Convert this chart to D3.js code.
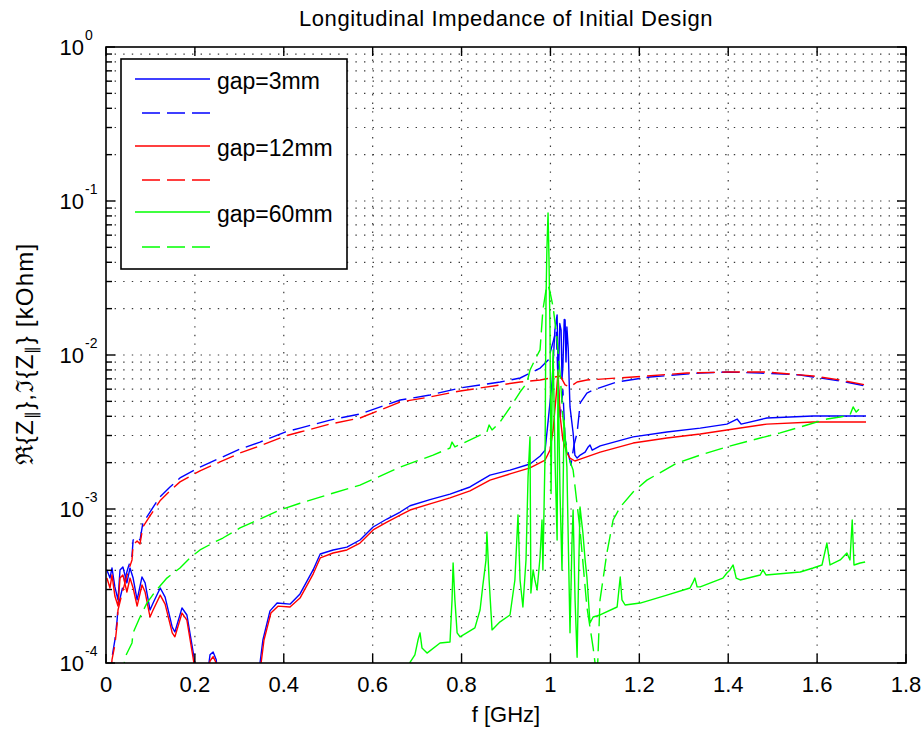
<!DOCTYPE html>
<html>
<head>
<meta charset="utf-8">
<script src="https://cdn.jsdelivr.net/npm/d3@7/dist/d3.min.js"></script>
<style>
  body { margin: 0; background: #fff; }
  text { font-family: "Liberation Sans", Arial, Helvetica, sans-serif; fill: #000; }
</style>
</head>
<body>
<svg id="chart" width="924" height="730"></svg>
<script>
// ---- chart text ----
const titleText = "Longitudinal Impedance of Initial Design";
const xLabelText = "f [GHz]";
const xTickValues = [0, 0.2, 0.4, 0.6, 0.8, 1.0, 1.2, 1.4, 1.6, 1.8];
const xTickLabels = ["0", "0.2", "0.4", "0.6", "0.8", "1", "1.2", "1.4", "1.6", "1.8"];
const yDecadeExponents = [0, -1, -2, -3, -4];
const legendLabels = ["gap=3mm", "", "gap=12mm", "", "gap=60mm", ""];

// ---- series: [frequency GHz, |Z| kOhm] ----
const gap3Re = [[0.002,4.02e-4],[0.009,3.56e-4],[0.0135,4.14e-4],[0.020,3.12e-4],[0.027,2.57e-4],[0.0315,4.02e-4],[0.038,4.2e-4],[0.047,3.31e-4],[0.054,4.14e-4],[0.061,3.56e-4],[0.070,2.57e-4],[0.081,3.62e-4],[0.088,3.31e-4],[0.099,2.21e-4],[0.106,2.45e-4],[0.122,3.07e-4],[0.133,2.68e-4],[0.149,1.71e-4],[0.155,1.59e-4],[0.171,2.28e-4],[0.182,2.05e-4],[0.196,1.18e-4],[0.205,7.8e-5],[0.227,7.8e-5],[0.234,1.13e-4],[0.241,1.18e-4],[0.248,1.05e-4],[0.252,7.8e-5],[0.340,7.8e-5],[0.3465,1.0e-4],[0.353,1.41e-4],[0.369,2.18e-4],[0.385,2.45e-4],[0.414,2.41e-4],[0.4365,2.81e-4],[0.466,4.02e-4],[0.482,5.1e-4],[0.511,5.42e-4],[0.542,5.66e-4],[0.5715,6.29e-4],[0.601,7.64e-4],[0.632,8.61e-4],[0.662,9.56e-4],[0.684,1.05e-3],[0.729,1.15e-3],[0.774,1.25e-3],[0.819,1.39e-3],[0.864,1.66e-3],[0.909,1.79e-3],[0.954,1.96e-3],[0.977,2.21e-3],[0.988,2.41e-3],[0.995,3.78e-3],[1.004,6.88e-3],[1.010,1.45e-2],[1.015,1.82e-2],[1.017,8.0e-3],[1.019,9.28e-3],[1.021,1.6e-2],[1.024,1.45e-2],[1.026,7.0e-3],[1.028,8.36e-3],[1.031,1.7e-2],[1.033,1.69e-2],[1.035,9.0e-3],[1.037,1.52e-2],[1.040,1.1e-2],[1.042,6.88e-3],[1.044,4.6e-3],[1.051,3.12e-3],[1.055,2.24e-3],[1.060,2.14e-3],[1.067,2.24e-3],[1.078,2.34e-3],[1.085,2.53e-3],[1.089,2.60e-3],[1.094,2.41e-3],[1.112,2.57e-3],[1.186,2.94e-3],[1.262,3.16e-3],[1.337,3.35e-3],[1.397,3.56e-3],[1.420,3.84e-3],[1.429,3.56e-3],[1.487,3.90e-3],[1.591,4.02e-3],[1.71,4.02e-3]];

const gap3Im = [[0.009,7.8e-5],[0.0135,1.09e-4],[0.020,1.41e-4],[0.025,1.90e-4],[0.027,2.31e-4],[0.036,2.98e-4],[0.043,3.56e-4],[0.0495,4.14e-4],[0.0585,4.95e-4],[0.061,6.29e-4],[0.070,6.58e-4],[0.0765,6.29e-4],[0.083,8.11e-4],[0.099,9.56e-4],[0.1215,1.20e-3],[0.144,1.39e-3],[0.1665,1.59e-3],[0.2115,1.87e-3],[0.2565,2.14e-3],[0.3015,2.45e-3],[0.3465,2.72e-3],[0.403,3.16e-3],[0.4365,3.35e-3],[0.504,3.78e-3],[0.5715,4.14e-3],[0.662,5.10e-3],[0.729,5.50e-3],[0.797,6.11e-3],[0.887,6.68e-3],[0.932,7.09e-3],[0.977,8.23e-3],[0.995,9.28e-3],[1.004,1.16e-2],[1.013,1.45e-2],[1.017,6.88e-3],[1.022,3.96e-3],[1.028,5.93e-3],[1.033,2.81e-3],[1.040,2.31e-3],[1.046,1.93e-3],[1.053,2.60e-3],[1.060,3.12e-3],[1.067,4.88e-3],[1.082,5.66e-3],[1.096,5.93e-3],[1.150,6.68e-3],[1.224,7.20e-3],[1.337,7.64e-3],[1.397,7.75e-3],[1.472,7.64e-3],[1.562,7.42e-3],[1.591,7.20e-3],[1.652,6.78e-3],[1.71,6.29e-3]];

const gap12Re = [[0.002,3.56e-4],[0.009,3.07e-4],[0.0135,3.73e-4],[0.020,2.72e-4],[0.027,2.34e-4],[0.0315,3.56e-4],[0.038,3.73e-4],[0.047,2.89e-4],[0.054,3.56e-4],[0.061,3.07e-4],[0.070,2.34e-4],[0.081,3.21e-4],[0.088,2.89e-4],[0.099,1.99e-4],[0.106,2.21e-4],[0.122,2.76e-4],[0.133,2.41e-4],[0.149,1.57e-4],[0.155,1.48e-4],[0.171,2.11e-4],[0.182,1.90e-4],[0.196,1.08e-4],[0.203,7.8e-5],[0.227,7.8e-5],[0.234,1.03e-4],[0.241,1.10e-4],[0.248,1.0e-4],[0.252,7.8e-5],[0.342,7.8e-5],[0.349,1.0e-4],[0.3555,1.41e-4],[0.371,2.11e-4],[0.387,2.34e-4],[0.414,2.31e-4],[0.4365,2.64e-4],[0.466,3.78e-4],[0.482,4.81e-4],[0.511,5.18e-4],[0.542,5.42e-4],[0.5715,6.01e-4],[0.601,7.31e-4],[0.632,8.23e-4],[0.662,9.14e-4],[0.684,9.85e-4],[0.729,1.08e-3],[0.774,1.18e-3],[0.819,1.31e-3],[0.864,1.54e-3],[0.909,1.69e-3],[0.954,1.85e-3],[0.988,2.08e-3],[0.999,2.41e-3],[1.006,3.26e-3],[1.013,5.50e-3],[1.017,7.75e-3],[1.022,3.96e-3],[1.028,2.81e-3],[1.037,2.31e-3],[1.044,2.14e-3],[1.055,2.05e-3],[1.067,2.11e-3],[1.112,2.34e-3],[1.186,2.68e-3],[1.262,2.89e-3],[1.337,3.07e-3],[1.397,3.26e-3],[1.487,3.56e-3],[1.591,3.67e-3],[1.71,3.67e-3]];

const gap12Im = [[0.009,6.7e-5],[0.0135,1.05e-4],[0.020,1.31e-4],[0.025,1.79e-4],[0.027,2.21e-4],[0.036,2.81e-4],[0.043,3.35e-4],[0.0495,3.90e-4],[0.0585,4.67e-4],[0.061,5.84e-4],[0.070,6.20e-4],[0.0765,5.93e-4],[0.083,7.64e-4],[0.099,9.01e-4],[0.1215,1.13e-3],[0.144,1.31e-3],[0.1665,1.50e-3],[0.2115,1.77e-3],[0.2565,2.02e-3],[0.3015,2.31e-3],[0.3465,2.57e-3],[0.403,2.98e-3],[0.4365,3.16e-3],[0.504,3.56e-3],[0.5715,3.90e-3],[0.662,4.95e-3],[0.729,5.34e-3],[0.797,5.84e-3],[0.887,6.39e-3],[0.932,6.68e-3],[0.977,6.88e-3],[1.022,7.31e-3],[1.033,6.39e-3],[1.044,6.20e-3],[1.060,6.68e-3],[1.082,6.88e-3],[1.186,7.20e-3],[1.307,7.64e-3],[1.397,7.75e-3],[1.487,7.75e-3],[1.591,7.31e-3],[1.652,6.88e-3],[1.71,6.39e-3]];

const gap60Re = [[0.673,7.8e-5],[0.684,1.01e-4],[0.695,1.13e-4],[0.702,1.41e-4],[0.7066,1.57e-4],[0.711,1.25e-4],[0.7223,1.16e-4],[0.7516,1.35e-4],[0.774,1.37e-4],[0.7786,2.57e-4],[0.781,4.46e-4],[0.785,2.57e-4],[0.790,1.57e-4],[0.7966,1.48e-4],[0.830,1.69e-4],[0.8416,2.21e-4],[0.848,3.21e-4],[0.855,4.67e-4],[0.857,7.09e-4],[0.862,3.46e-4],[0.8686,1.64e-4],[0.8866,1.85e-4],[0.909,2.05e-4],[0.920,3.46e-4],[0.927,9.14e-4],[0.9316,3.46e-4],[0.938,2.31e-4],[0.945,4.67e-4],[0.9496,1.61e-3],[0.954,2.94e-3],[0.956,2.85e-4],[0.961,4.02e-4],[0.965,3.46e-4],[0.970,2.98e-4],[0.9766,4.88e-4],[0.981,8.48e-4],[0.983,4.02e-4],[0.988,2.41e-3],[0.990,2.28e-2],[0.992,4.81e-2],[0.9946,8.36e-2],[0.9968,4.14e-2],[0.999,1.45e-2],[1.0014,1.26e-3],[1.0036,5.10e-3],[1.006,1.08e-2],[1.0104,2.08e-3],[1.015,6.29e-4],[1.017,7.99e-3],[1.0216,1.26e-3],[1.026,4.02e-4],[1.0306,3.78e-3],[1.037,1.87e-3],[1.044,1.57e-4],[1.0486,6.29e-4],[1.051,9.85e-4],[1.0554,2.57e-4],[1.060,1.09e-4],[1.064,4.67e-4],[1.0666,1.03e-3],[1.073,6.99e-4],[1.078,4.67e-4],[1.082,3.62e-4],[1.089,1.82e-4],[1.096,1.99e-4],[1.1116,2.05e-4],[1.150,2.31e-4],[1.154,2.98e-4],[1.157,3.62e-4],[1.161,2.57e-4],[1.168,2.38e-4],[1.202,2.45e-4],[1.262,2.76e-4],[1.314,3.07e-4],[1.321,3.35e-4],[1.325,3.56e-4],[1.330,3.12e-4],[1.337,3.12e-4],[1.388,3.56e-4],[1.397,3.84e-4],[1.404,4.02e-4],[1.411,4.33e-4],[1.418,3.56e-4],[1.427,3.46e-4],[1.472,3.73e-4],[1.478,4.02e-4],[1.485,3.73e-4],[1.562,3.90e-4],[1.591,4.14e-4],[1.611,4.33e-4],[1.622,6.01e-4],[1.629,4.33e-4],[1.652,4.67e-4],[1.667,5.18e-4],[1.674,4.67e-4],[1.679,8.48e-4],[1.683,4.33e-4],[1.697,4.46e-4],[1.708,4.53e-4]];

const gap60Im = [[0.036,7.8e-5],[0.043,1.09e-4],[0.0585,1.35e-4],[0.061,1.57e-4],[0.0765,1.99e-4],[0.092,2.45e-4],[0.110,2.89e-4],[0.137,3.56e-4],[0.1665,4.14e-4],[0.189,4.81e-4],[0.2115,5.42e-4],[0.245,6.11e-4],[0.263,6.48e-4],[0.3015,7.53e-4],[0.331,8.23e-4],[0.3915,9.85e-4],[0.4365,1.09e-3],[0.504,1.25e-3],[0.5715,1.43e-3],[0.662,1.87e-3],[0.736,2.24e-3],[0.774,2.49e-3],[0.7786,2.72e-3],[0.785,2.53e-3],[0.857,3.16e-3],[0.862,3.51e-3],[0.8686,3.26e-3],[0.8866,3.67e-3],[0.916,4.88e-3],[0.9316,5.75e-3],[0.947,6.58e-3],[0.954,7.99e-3],[0.965,9.28e-3],[0.9766,1.08e-2],[0.983,1.96e-2],[0.990,2.64e-2],[0.9946,2.85e-2],[0.999,2.57e-2],[1.006,2.05e-2],[1.015,1.25e-2],[1.0216,7.64e-3],[1.028,3.96e-3],[1.037,2.31e-3],[1.051,1.79e-3],[1.0666,7.31e-4],[1.082,2.31e-4],[1.096,1.26e-4],[1.105,7.8e-5],[1.1116,2.57e-4],[1.127,5.18e-4],[1.141,8.48e-4],[1.157,1.03e-3],[1.186,1.29e-3],[1.217,1.54e-3],[1.285,1.99e-3],[1.337,2.24e-3],[1.397,2.53e-3],[1.456,2.81e-3],[1.517,3.12e-3],[1.577,3.51e-3],[1.622,3.84e-3],[1.652,3.96e-3],[1.674,4.08e-3],[1.681,4.60e-3],[1.688,4.26e-3],[1.697,4.53e-3]];

// drawing order and style of every trace (solid = real part, dashed = imaginary part)
const seriesList = [
  { data: gap3Re,  color: "#0000ff", dashed: false },
  { data: gap3Im,  color: "#0000ff", dashed: true  },
  { data: gap12Re, color: "#ff0000", dashed: false },
  { data: gap12Im, color: "#ff0000", dashed: true  },
  { data: gap60Re, color: "#00ff00", dashed: false },
  { data: gap60Im, color: "#00ff00", dashed: true  }
];

// ---- layout ----
const svg = d3.select("#chart");
const plot = { left: 106, right: 906, top: 47, bottom: 663 };
const DASH = "18,7";

const x = d3.scaleLinear().domain([0, 1.8]).range([plot.left, plot.right]);
const y = d3.scaleLog().domain([1e-4, 1]).range([plot.bottom, plot.top]);

svg.append("rect").attr("width", 924).attr("height", 730).attr("fill", "#fff");

// minor/major decade positions on the log axis
const yMajor = yDecadeExponents.map(e => Math.pow(10, e));
const yMinor = [];
for (let e = -4; e < 0; e++) for (let k = 2; k <= 9; k++) yMinor.push(k * Math.pow(10, e));

// ---- dotted grid ----
const grid = svg.append("g").attr("stroke", "#3a3a3a").attr("stroke-width", 1.2)
  .attr("stroke-dasharray", "1.4,7.2").attr("fill", "none");
yMajor.concat(yMinor).filter(v => v > 1e-4 && v < 1).forEach(v => {
  grid.append("line").attr("x1", plot.left).attr("x2", plot.right)
    .attr("y1", y(v)).attr("y2", y(v));
});
xTickValues.filter(v => v > 0 && v < 1.8).forEach(v => {
  grid.append("line").attr("y1", plot.bottom).attr("y2", plot.top)
    .attr("x1", x(v)).attr("x2", x(v));
});

// ---- traces ----
svg.append("clipPath").attr("id", "plotClip").append("rect")
  .attr("x", plot.left).attr("y", plot.top)
  .attr("width", plot.right - plot.left).attr("height", plot.bottom - plot.top);

const line = d3.line().x(d => x(d[0])).y(d => y(d[1]));
const traces = svg.append("g").attr("clip-path", "url(#plotClip)");
seriesList.forEach(s => {
  traces.append("path").datum(s.data)
    .attr("d", line)
    .attr("fill", "none")
    .attr("stroke", s.color)
    .attr("stroke-width", 1.4)
    .attr("stroke-linejoin", "round")
    .attr("stroke-dasharray", s.dashed ? DASH : null);
});

// ---- axes box and ticks ----
const axes = svg.append("g").attr("stroke", "#000").attr("fill", "none");
axes.append("rect").attr("x", plot.left).attr("y", plot.top)
  .attr("width", plot.right - plot.left).attr("height", plot.bottom - plot.top)
  .attr("stroke-width", 1.6);

xTickValues.forEach(v => {
  axes.append("line").attr("x1", x(v)).attr("x2", x(v))
    .attr("y1", plot.bottom).attr("y2", plot.bottom - 9).attr("stroke-width", 1.4);
  axes.append("line").attr("x1", x(v)).attr("x2", x(v))
    .attr("y1", plot.top).attr("y2", plot.top + 9).attr("stroke-width", 1.4);
});
yMajor.forEach(v => {
  axes.append("line").attr("x1", plot.left).attr("x2", plot.left + 9)
    .attr("y1", y(v)).attr("y2", y(v)).attr("stroke-width", 1.4);
  axes.append("line").attr("x1", plot.right).attr("x2", plot.right - 9)
    .attr("y1", y(v)).attr("y2", y(v)).attr("stroke-width", 1.4);
});
yMinor.forEach(v => {
  axes.append("line").attr("x1", plot.left).attr("x2", plot.left + 6)
    .attr("y1", y(v)).attr("y2", y(v)).attr("stroke-width", 1.4);
  axes.append("line").attr("x1", plot.right).attr("x2", plot.right - 6)
    .attr("y1", y(v)).attr("y2", y(v)).attr("stroke-width", 1.4);
});

// ---- tick labels ----
xTickValues.forEach((v, i) => {
  svg.append("text").attr("x", x(v)).attr("y", 692)
    .attr("text-anchor", "middle").attr("font-size", 22).text(xTickLabels[i]);
});
yDecadeExponents.forEach(e => {
  const yy = y(Math.pow(10, e));
  svg.append("text").attr("x", 84).attr("y", yy + 8)
    .attr("text-anchor", "end").attr("font-size", 22).text("10");
  svg.append("text").attr("x", 85).attr("y", yy - 7)
    .attr("text-anchor", "start").attr("font-size", 14).text(String(e));
});

// ---- titles ----
const cx = (plot.left + plot.right) / 2;
svg.append("text").attr("x", cx).attr("y", 26).attr("text-anchor", "middle")
  .attr("font-size", 22).attr("letter-spacing", 0.6).text(titleText);
svg.append("text").attr("x", cx).attr("y", 722).attr("text-anchor", "middle")
  .attr("font-size", 22).text(xLabelText);

const yLab = svg.append("text").attr("transform", "translate(33,354) rotate(-90)")
  .attr("text-anchor", "middle").attr("font-size", 24).attr("letter-spacing", 1.2);
yLab.append("tspan").text("\u211C{Z");
yLab.append("tspan").attr("font-size", 16).attr("dy", 4).text("\u2225");
yLab.append("tspan").attr("dy", -4).text("},\u2111{Z");
yLab.append("tspan").attr("font-size", 16).attr("dy", 4).text("\u2225");
yLab.append("tspan").attr("dy", -4).text("} [kOhm]");

// ---- legend ----
const leg = svg.append("g");
leg.append("rect").attr("x", 121).attr("y", 59).attr("width", 226).attr("height", 210)
  .attr("fill", "#fff").attr("stroke", "#000").attr("stroke-width", 1.6);
const legendRows = [79, 113, 146, 180, 212, 247];
seriesList.forEach((s, i) => {
  const ly = legendRows[i];
  // dashed samples are stroked from the right end so the pattern ends flush
  leg.append("line").attr("x1", 210).attr("x2", 135).attr("y1", ly).attr("y2", ly)
    .attr("stroke", s.color).attr("stroke-width", 1.4)
    .attr("stroke-dasharray", s.dashed ? DASH : null);
  if (legendLabels[i]) {
    leg.append("text").attr("x", 217).attr("y", ly + 10).attr("font-size", 23)
      .text(legendLabels[i]);
  }
});
</script>
</body>
</html>
